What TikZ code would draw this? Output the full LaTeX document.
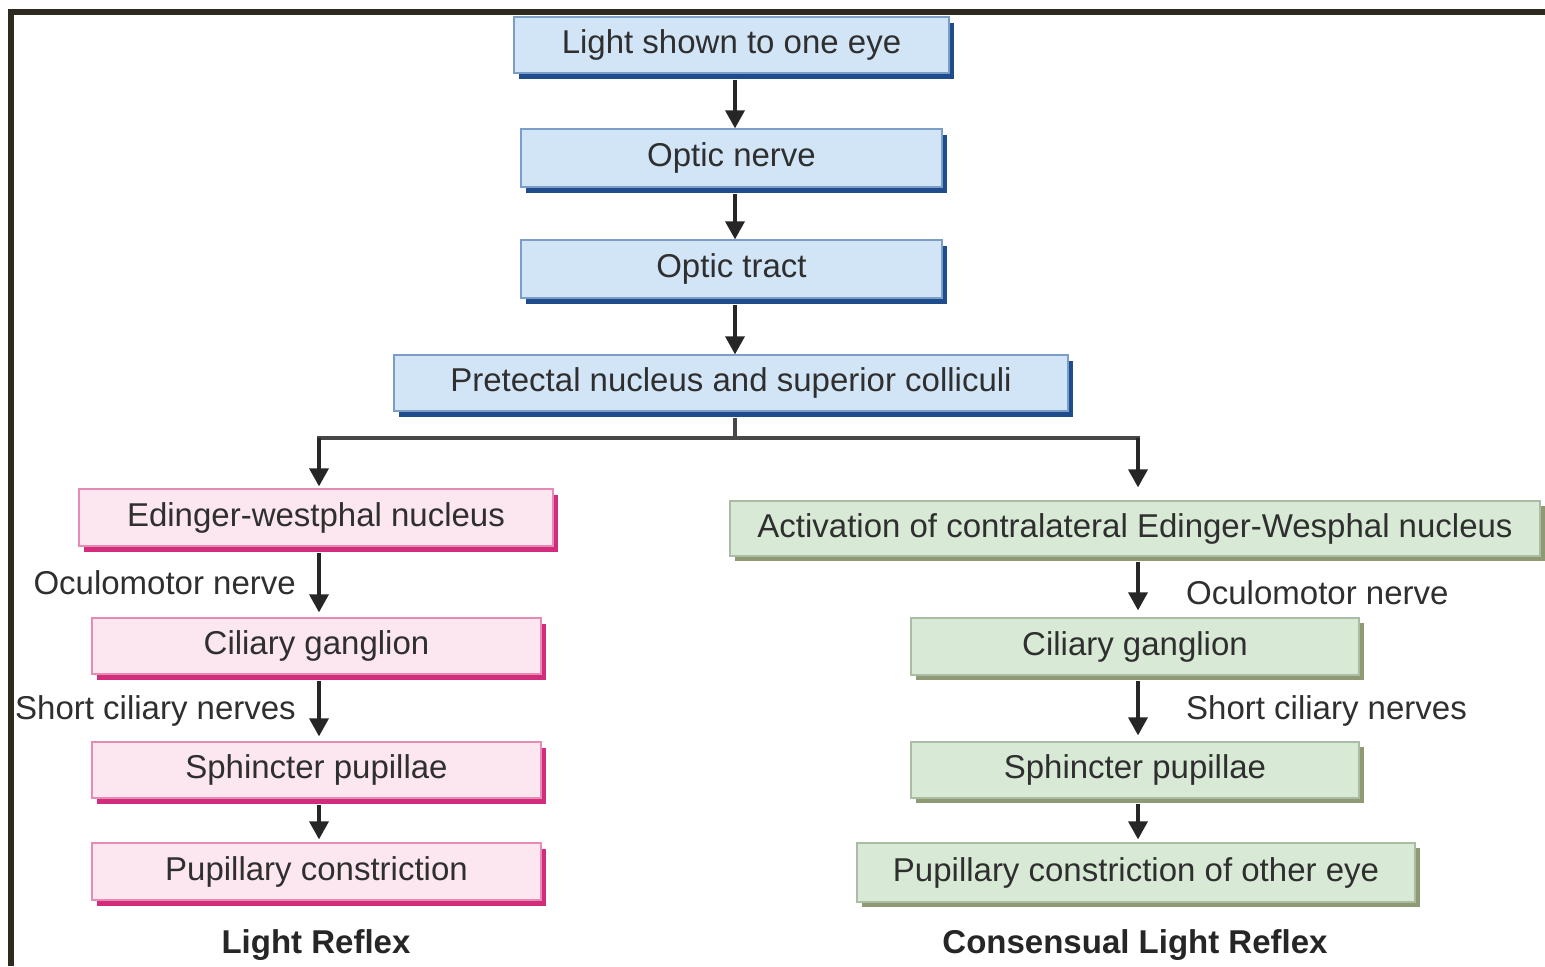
\documentclass[tikz,border=0pt]{standalone}
\usepackage{fontspec}
\setmainfont{Liberation Sans}
\usetikzlibrary{arrows.meta,shadows,calc}

\definecolor{framecol}{HTML}{2E2A20}
\definecolor{txt}{HTML}{2F2F2F}
\definecolor{linecol}{HTML}{262626}
\definecolor{bluefill}{HTML}{D2E5F7}
\definecolor{blueline}{HTML}{7C9DC6}
\definecolor{blueshade}{HTML}{1F4C8C}
\definecolor{pinkfill}{HTML}{FCE6F0}
\definecolor{pinkline}{HTML}{E68CB4}
\definecolor{pinkshade}{HTML}{D42C7C}
\definecolor{greenfill}{HTML}{D8EAD6}
\definecolor{greenline}{HTML}{A9BDA2}
\definecolor{greenshade}{HTML}{8F9A74}

\tikzset{
  boxbase/.style={rectangle, draw, line width=1.3bp, inner sep=0pt,
    font=\fontsize{33bp}{40bp}\selectfont, text=txt},
  bluebox/.style={boxbase, fill=bluefill, draw=blueline,
    drop shadow={shadow xshift=5bp, shadow yshift=-6bp, opacity=1, fill=blueshade}},
  pinkbox/.style={boxbase, fill=pinkfill, draw=pinkline,
    drop shadow={shadow xshift=5bp, shadow yshift=-6bp, opacity=1, fill=pinkshade}},
  greenbox/.style={boxbase, fill=greenfill, draw=greenline,
    drop shadow={shadow xshift=5bp, shadow yshift=-5bp, opacity=1, fill=greenshade}},
  nervelabel/.style={inner sep=0pt, text=txt, font=\fontsize{33bp}{40bp}\selectfont},
  reflexlabel/.style={inner sep=0pt, text=linecol, font=\fontsize{33bp}{40bp}\selectfont\bfseries},
  arr/.style={draw=linecol, line width=3.5bp, -{Triangle[length=18bp,width=19bp]}},
  branch/.style={draw=linecol!85, line width=3.5bp}
}

\begin{document}
\begin{tikzpicture}[x=1bp, y=-1bp]
  % page and frame
  \fill[white] (0,0) rectangle (1545,966);
  \useasboundingbox (0,0) rectangle (1545,966);
  \draw[framecol, line width=6bp, line cap=butt, line join=miter]
    (11,966) -- (11,12) -- (1545,12);

  % vertical guides for the connectors
  \coordinate (spine)  at (735,0);
  \coordinate (lspine) at (319,0);
  \coordinate (rspine) at (1138,0);

  % common pathway
  \node[bluebox, minimum width=435bp, minimum height=56bp] (b1) at (731.5,45)  {Light shown to one eye};
  \node[bluebox, minimum width=421bp, minimum height=58bp] (b2) at (731.5,158) {Optic nerve};
  \node[bluebox, minimum width=421bp, minimum height=58bp] (b3) at (731.5,269) {Optic tract};
  \node[bluebox, minimum width=674bp, minimum height=56bp] (b4) at (731,383)   {Pretectal nucleus and superior colliculi};

  % direct light reflex
  \node[pinkbox, minimum width=474bp, minimum height=57bp] (l1) at (316,517.5)  {Edinger-westphal nucleus};
  \node[pinkbox, minimum width=449bp, minimum height=56bp] (l2) at (316.5,646)  {Ciliary ganglion};
  \node[pinkbox, minimum width=449bp, minimum height=56bp] (l3) at (316.5,770)  {Sphincter pupillae};
  \node[pinkbox, minimum width=449bp, minimum height=57bp] (l4) at (316.5,871.5){Pupillary constriction};

  % consensual light reflex
  \node[greenbox, minimum width=810bp, minimum height=55bp] (r1) at (1135,528.5) {Activation of contralateral Edinger-Wesphal nucleus};
  \node[greenbox, minimum width=448bp, minimum height=57bp] (r2) at (1135,646.5) {Ciliary ganglion};
  \node[greenbox, minimum width=448bp, minimum height=56bp] (r3) at (1135,770)   {Sphincter pupillae};
  \node[greenbox, minimum width=558bp, minimum height=59bp] (r4) at (1136,872.5) {Pupillary constriction of other eye};

  % nerve labels
  \node[nervelabel, anchor=east] (lo) at (296,583) {Oculomotor nerve};
  \node[nervelabel, anchor=east] (ls) at (296,711) {Short ciliary nerves};
  \node[nervelabel, anchor=west] (ro) at (1186,593) {Oculomotor nerve};
  \node[nervelabel, anchor=west] (rs) at (1186,711) {Short ciliary nerves};

  % titles
  \node[reflexlabel] (lt) at (316,945)  {Light Reflex};
  \node[reflexlabel] (rt) at (1135,945) {Consensual Light Reflex};

  % common pathway arrows
  \draw[arr] ([yshift=-6bp]b1.south -| spine) -- (b2.north -| spine);
  \draw[arr] ([yshift=-6bp]b2.south -| spine) -- (b3.north -| spine);
  \draw[arr] ([yshift=-6bp]b3.south -| spine) -- (b4.north -| spine);

  % branching
  \coordinate (split) at (735,438);
  \coordinate (lbr)   at (319,438);
  \coordinate (rbr)   at (1138,438);
  \draw[branch] ([yshift=-6bp]b4.south -| spine) -- (split);
  \draw[branch, line cap=rect] (lbr) -- (rbr);
  \draw[arr] (lbr) -- ([yshift=2bp]l1.north -| lspine);
  \draw[arr] (rbr) -- ([yshift=13bp]r1.north -| rspine);

  % direct reflex arrows
  \draw[arr] ([yshift=-6bp]l1.south -| lspine) -- ([yshift=5bp]l2.north -| lspine);
  \draw[arr] ([yshift=-6bp]l2.south -| lspine) -- ([yshift=5bp]l3.north -| lspine);
  \draw[arr] ([yshift=-6bp]l3.south -| lspine) -- ([yshift=3bp]l4.north -| lspine);

  % consensual reflex arrows
  \draw[arr] ([yshift=-5bp]r1.south -| rspine) -- ([yshift=7bp]r2.north -| rspine);
  \draw[arr] ([yshift=-5bp]r2.south -| rspine) -- ([yshift=6bp]r3.north -| rspine);
  \draw[arr] ([yshift=-5bp]r3.south -| rspine) -- ([yshift=3bp]r4.north -| rspine);
\end{tikzpicture}
\end{document}
